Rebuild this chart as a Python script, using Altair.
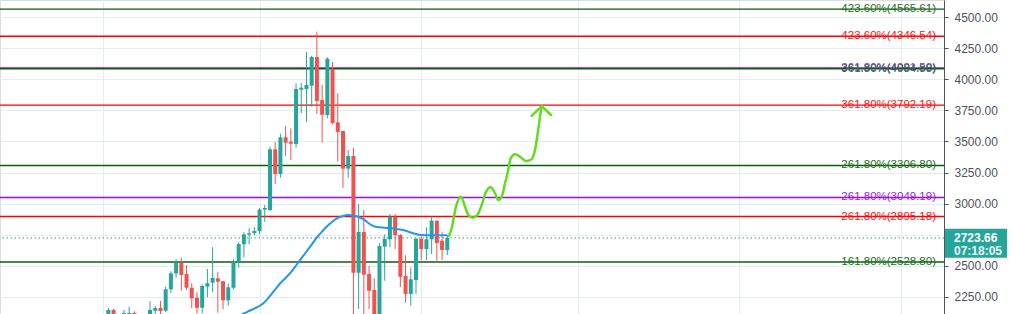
import altair as alt
import pandas as pd

# ---- candles (daily) ----
opens = [2085, 2143, 2080, 2095, 2100, 2119, 2085, 2060, 2090, 2137,
         2159, 2137, 2310, 2438, 2521, 2433, 2322, 2242, 2161, 2331,
         2363, 2398, 2374, 2221, 2322, 2532, 2672, 2749, 2761, 2779,
         2951, 2948, 3437, 3238, 3533, 3498, 3480, 3917, 3922, 3949,
         4180, 3834, 3713, 4086, 3654, 3584, 3281, 3383, 2443, 2771,
         2433, 2304, 2062, 2653, 2712, 2894, 2747, 2417, 2272, 2384,
         2717, 2634, 2712, 2860, 2701, 2626]
highs = [2159, 2151, 2100, 2143, 2170, 2132, 2100, 2105, 2215, 2175,
         2215, 2330, 2455, 2553, 2562, 2505, 2358, 2286, 2350, 2473,
         2648, 2451, 2376, 2358, 2551, 2690, 2769, 2801, 2809, 2964,
         2988, 3459, 3498, 3562, 3624, 3606, 3968, 3973, 4220, 4190,
         4384, 3957, 4178, 4140, 3888, 3587, 3431, 3450, 2996, 2948,
         2497, 2398, 2680, 2752, 2916, 2916, 2755, 2583, 2484, 2722,
         2747, 2809, 2894, 2868, 2773, 2747]
lows = [2060, 2070, 2050, 2080, 2085, 2070, 2050, 2045, 2080, 2100,
        2105, 2127, 2282, 2403, 2298, 2304, 2157, 2116, 2116, 2245,
        2285, 2121, 2149, 2178, 2310, 2484, 2567, 2672, 2744, 2752,
        2854, 2940, 3157, 3208, 3383, 3351, 3450, 3729, 3657, 3780,
        3721, 3490, 3686, 3638, 3340, 3125, 3208, 2050, 2151, 2080,
        2151, 2060, 2040, 2379, 2648, 2634, 2326, 2202, 2178, 2272,
        2546, 2546, 2594, 2540, 2546, 2586]
closes = [2143, 2090, 2095, 2119, 2119, 2085, 2060, 2090, 2143, 2159,
          2135, 2310, 2438, 2521, 2425, 2322, 2237, 2161, 2336, 2358,
          2401, 2371, 2221, 2326, 2532, 2674, 2752, 2761, 2779, 2951,
          2964, 3437, 3238, 3533, 3490, 3482, 3922, 3933, 3955, 4180,
          3826, 3715, 4166, 3649, 3576, 3281, 3383, 2443, 2771, 2427,
          2298, 2095, 2658, 2715, 2894, 2747, 2411, 2272, 2390, 2717,
          2634, 2712, 2862, 2682, 2626, 2723.66]

# ---- moving average ----
ma_start = 24
ma_values = [2062, 2091, 2115, 2135, 2155, 2175, 2207, 2256, 2308, 2360,
             2401, 2445, 2501, 2558, 2614, 2670, 2727, 2775, 2819, 2856,
             2884, 2900, 2908, 2904, 2892, 2872, 2839, 2815, 2809, 2806,
             2802, 2798, 2791, 2781, 2767, 2755, 2747, 2745, 2744, 2744,
             2744, 2744]

# ---- projected path (hand drawn) ----
path_index = [65.33, 65.85, 66.67, 67.63, 68.4, 69.03, 69.87, 70.76, 71.6, 72.43,
              73.33, 74.15, 74.78, 75.44, 76.07, 76.7, 77.16, 77.99, 78.95, 80.1,
              81.0, 81.82, 82.34, 82.78, 83.1]
path_price = [2739, 2801, 2975, 3055, 2975, 2908, 2886, 2908, 2988, 3095,
              3131, 3083, 3029, 3055, 3163, 3270, 3364, 3397, 3377, 3343,
              3351, 3431, 3566, 3699, 3785]
arrow_index = [81.19, 83.1, 84.89]
arrow_price = [3705, 3785, 3713]

# ---- fibonacci levels ----
fib_levels = [4565.61, 4346.54, 4091.50, 4084.88, 3792.19, 3306.80, 3049.19, 2895.18, 2528.80]
fib_labels = ["423.60%(4565.61)", "423.60%(4346.54)", "361.80%(4091.50)", "361.80%(4084.88)",
              "361.80%(3792.19)", "261.80%(3306.80)", "261.80%(3049.19)", "261.80%(2895.18)",
              "161.80%(2528.80)"]
fib_kind = ["g", "r", "p", "g", "r", "g", "p", "r", "g"]

last_price = 2723.66
last_label = "2723.66"
countdown = "07:18:05"

y_ticks = [2250, 2500, 2750, 3000, 3250, 3500, 3750, 4000, 4250, 4500]
x_grid = [-1, 29, 60, 90, 121, 152]

LINE_COL = {"g": "#0d5c0d", "r": "#ff0000", "p": "#8e0ff0"}
TEXT_COL = {"g": "#1a6e1a", "r": "#ff1010", "p": "#9a20f5"}
UP, DOWN = "#26a69a", "#ef5350"

candles = pd.DataFrame({
    "i": list(range(len(opens))), "open": opens, "high": highs, "low": lows, "close": closes,
})
candles["col"] = [UP if c >= o else DOWN for o, c in zip(opens, closes)]
ma = pd.DataFrame({"i": list(range(ma_start, ma_start + len(ma_values))), "v": ma_values})
path = pd.DataFrame({"i": path_index, "v": path_price})
arrow = pd.DataFrame({"i": arrow_index, "v": arrow_price})
fib = pd.DataFrame({"v": fib_levels, "label": fib_labels,
                    "lc": [LINE_COL[k] for k in fib_kind], "tc": [TEXT_COL[k] for k in fib_kind]})
last = pd.DataFrame({"v": [last_price], "label": [last_label], "cd": [countdown]})

xscale = alt.Scale(domain=[-20.77, 160.25], nice=False, zero=False)
yscale = alt.Scale(domain=[2110.7, 4638.9], nice=False, zero=False)
xaxis = alt.Axis(values=x_grid, grid=True, gridColor="#e4ecf2", labels=False, ticks=False,
                 domain=False, title=None)
# the 2750 label sits under the last-price marker, so only its grid line is kept
yaxis = alt.Axis(orient="right", values=y_ticks, format=".2f", grid=True, gridColor="#e4ecf2",
                 domainColor="#50535e", tickColor="#50535e", tickSize=4, labelColor="#50535e",
                 labelFontSize=12, labelFont="Liberation Sans", labelPadding=6, title=None,
                 labelExpr="datum.value == 2750 ? '' : datum.label")


def X(f):
    return alt.X(f, type="quantitative", scale=xscale, axis=xaxis)


def Y(f):
    return alt.Y(f, type="quantitative", scale=yscale, axis=yaxis)


wicks = alt.Chart(candles).mark_rule(strokeWidth=1, clip=True).encode(
    x=X("i"), y=Y("low"), y2="high", color=alt.Color("col:N", scale=None))
bodies = alt.Chart(candles).mark_rule(strokeWidth=4, strokeCap="butt", clip=True).encode(
    x=X("i"), y=Y("open"), y2="close", color=alt.Color("col:N", scale=None))

fib_lines = alt.Chart(fib).mark_rule(strokeWidth=1.4).encode(
    y=Y("v"), color=alt.Color("lc:N", scale=None))
fib_text = alt.Chart(fib).mark_text(align="right", baseline="middle", fontSize=11.5,
                                    font="Liberation Sans").encode(
    x=alt.value(936), y=Y("v"), text="label:N", color=alt.Color("tc:N", scale=None))

price_line = alt.Chart(last).mark_rule(strokeDash=[1.5, 2.5], strokeWidth=1, color=UP).encode(
    y=Y("v"))

ma_line = alt.Chart(ma).mark_line(color="#2196f3", strokeWidth=2, interpolate="monotone",
                                  clip=True).encode(x=X("i"), y=Y("v"))

path_line = alt.Chart(path).mark_line(color="#62dc1e", strokeWidth=2.5, interpolate="monotone",
                                      strokeCap="round").encode(x=X("i"), y=Y("v"))
arrow_line = alt.Chart(arrow).mark_line(color="#62dc1e", strokeWidth=2.5, strokeCap="round",
                                        strokeJoin="round").encode(x=X("i"), y=Y("v"))

box = alt.Chart(last).mark_rect(color=UP, yOffset=-9, y2Offset=20).encode(
    x=alt.value(945), x2=alt.value(1007), y=Y("v"), y2="v")
box_t1 = alt.Chart(last).mark_text(align="left", baseline="middle", fontSize=12, fontWeight="bold",
                                   font="Liberation Sans", color="white").encode(
    x=alt.value(954), y=Y("v"), text="label:N")
box_t2 = alt.Chart(last).mark_text(align="left", baseline="middle", fontSize=12, fontWeight="bold",
                                   font="Liberation Sans", color="#e8f6f4", dy=13).encode(
    x=alt.value(954), y=Y("v"), text="cd:N")

chart = alt.layer(
    fib_lines, price_line, wicks, bodies, ma_line, path_line, arrow_line, fib_text,
    box, box_t1, box_t2
).properties(
    width=944, height=314,
    padding={"left": 0, "top": 0, "right": 69, "bottom": 0},
    autosize=alt.AutoSizeParams(type="none"),
).configure_view(stroke=None).configure(background="white")

chart.save("out.html", embed_options={"renderer": "svg", "actions": False})
